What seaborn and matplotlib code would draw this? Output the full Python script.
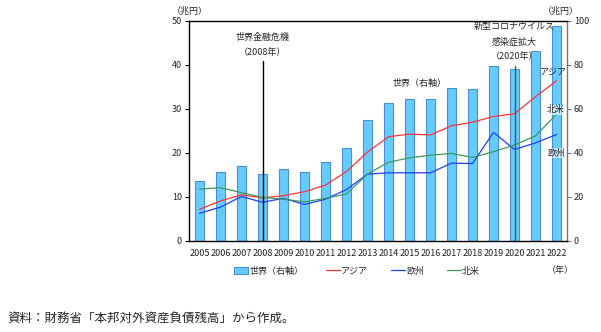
import numpy as np
import pandas as pd
import matplotlib
matplotlib.use("Agg")
import matplotlib.pyplot as plt
import seaborn as sns
from matplotlib.lines import Line2D
from matplotlib.patches import Patch

sns.set_theme(style="white")
plt.rcParams['font.family'] = ['Noto Sans CJK JP', 'DejaVu Sans']

years = [str(y) for y in range(2005, 2023)]
world = [27.3, 31.2, 34.0, 30.3, 32.6, 31.2, 35.8, 42.1, 55.0, 62.6,
         64.5, 64.5, 69.4, 69.0, 79.5, 78.2, 86.2, 97.6]
asia = [7.2, 9.1, 10.5, 9.8, 10.3, 11.2, 12.7, 15.8, 20.2, 23.7,
        24.3, 24.1, 26.2, 27.0, 28.3, 28.9, 32.8, 36.4]
europe = [6.3, 7.7, 10.1, 8.8, 9.7, 8.3, 9.5, 11.7, 15.2, 15.5,
          15.5, 15.5, 17.7, 17.6, 24.7, 20.8, 22.3, 24.2]
namerica = [11.8, 12.1, 11.0, 9.9, 9.5, 8.9, 9.7, 10.7, 15.2, 17.9,
            18.9, 19.5, 19.9, 19.0, 20.3, 21.8, 23.9, 28.8]

df = pd.DataFrame({"year": years, "world": world})
pos = np.arange(len(years))

fig = plt.figure(figsize=(6.01, 3.32), dpi=100)
ax1 = fig.add_axes([189/601, 1-241/332, (567-189)/601, (241-21)/332])
ax2 = ax1.twinx()
ax1.set_zorder(ax2.get_zorder() + 1)
ax1.patch.set_visible(False)

sns.barplot(data=df, x="year", y="world", ax=ax2, color="#66CCFF",
            edgecolor="#4A8ED6", linewidth=0.8, width=0.42, saturation=1)

sns.lineplot(x=pos, y=asia, ax=ax1, color="#FF3333", linewidth=0.9)
sns.lineplot(x=pos, y=europe, ax=ax1, color="#1F3FFF", linewidth=0.9)
sns.lineplot(x=pos, y=namerica, ax=ax1, color="#3A9A5A", linewidth=0.9)

for a in (ax1, ax2):
    a.set_xlim(-0.5, len(years) - 0.5)
    a.set_xlabel("")
    a.set_ylabel("")
    a.grid(False)
ax1.set_ylim(0, 50)
ax2.set_ylim(0, 100)
ax1.set_yticks([0, 10, 20, 30, 40, 50])
ax2.set_yticks([0, 20, 40, 60, 80, 100])

ax1.set_xticks(pos)
ax1.set_xticklabels(years)
ax1.tick_params(axis='x', length=0, labelsize=6.5, pad=6, colors="#222222")
ax1.set_xticks(np.arange(-0.5, len(years), 1), minor=True)
ax1.tick_params(axis='x', which='minor', length=3, direction='out', width=0.8, color="black")
ax2.tick_params(axis='x', length=0)
ax1.tick_params(axis='y', length=3, width=0.8, direction='out', labelsize=6.5, pad=2, color="black")
ax2.tick_params(axis='y', length=3, width=0.8, direction='out', labelsize=6.5, pad=2, color="#777777")

for s in ax1.spines.values():
    s.set_visible(False)
for sp in ('left', 'bottom', 'top'):
    ax1.spines[sp].set_visible(True)
    ax1.spines[sp].set_color("black")
    ax1.spines[sp].set_linewidth(1.0)
for s in ax2.spines.values():
    s.set_visible(False)
ax2.spines['right'].set_visible(True)
ax2.spines['right'].set_color("#777777")
ax2.spines['right'].set_linewidth(1.0)

# event lines
ax1.plot([3, 3], [0, 40.9], color="black", linewidth=1.0)
ax1.plot([15, 15], [0, 39.8], color="#555555", linewidth=1.0)

fs = 6.5
ax1.text(3, 46.4, "世界金融危機", ha="center", va="center", fontsize=fs)
ax1.text(3, 42.8, "（2008年）", ha="center", va="center", fontsize=fs)
ax1.text(15, 48.7, "新型コロナウイルス", ha="center", va="center", fontsize=fs)
ax1.text(15, 45.3, "感染症拡大", ha="center", va="center", fontsize=fs)
ax1.text(15, 41.9, "（2020年）", ha="center", va="center", fontsize=fs)
ax1.text(10.5, 35.8, "世界（右軸）", ha="center", va="center", fontsize=fs)
lbl_bbox = dict(facecolor="white", edgecolor="none", alpha=0.6, pad=0.3)
ax1.text(16.85, 38.4, "アジア", ha="center", va="center", fontsize=fs)
ax1.text(16.95, 29.8, "北米", ha="center", va="center", fontsize=fs, bbox=lbl_bbox)
ax1.text(16.98, 20.0, "欧州", ha="center", va="center", fontsize=fs, bbox=lbl_bbox)

fig.text(190/601, 1-11/332, "（兆円）", ha="center", va="center", fontsize=fs)
fig.text(561/601, 1-11/332, "（兆円）", ha="center", va="center", fontsize=fs)
fig.text(560/601, 1-270/332, "（年）", ha="center", va="center", fontsize=fs)

handles = [Patch(facecolor="#66CCFF", edgecolor="#4A8ED6", linewidth=0.8, label="世界（右軸）"),
           Line2D([], [], color="#FF3333", linewidth=0.9, label="アジア"),
           Line2D([], [], color="#1F3FFF", linewidth=0.9, label="欧州"),
           Line2D([], [], color="#3A9A5A", linewidth=0.9, label="北米")]
fig.legend(handles=handles, loc="center", bbox_to_anchor=(357/601, 1-271/332),
           ncol=4, frameon=False, fontsize=fs, handlelength=1.6, handletextpad=0.1,
           columnspacing=2.5, handleheight=0.8)

fig.text(7/601, 1-318/332, "資料：財務省「本邦対外資産負債残高」から作成。", ha="left", va="center", fontsize=9)

fig.savefig("out.png", dpi=100)
